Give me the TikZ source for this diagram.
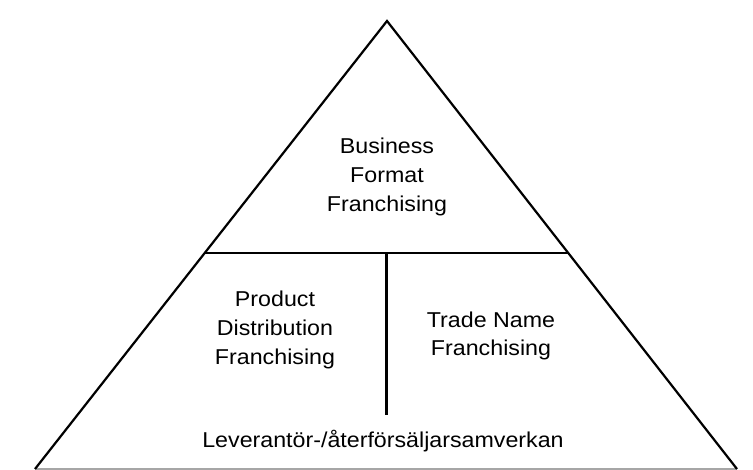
\documentclass[tikz,border=0pt]{standalone}
\usepackage{fontspec}
\setmainfont{Liberation Sans}[FakeStretch=1.08]
\usetikzlibrary{calc}
\begin{document}
\begin{tikzpicture}[x=1pt,y=-1pt,
  edge/.style={line width=2.2pt, line join=miter, line cap=butt},
  baseedge/.style={line width=1.2pt, black!35},
  label/.style={inner sep=0pt, align=center, font=\fontsize{21.5}{28.8}\selectfont}]
  \useasboundingbox (0,0) rectangle (753,470);
  % pyramid corners
  \coordinate (apex) at (387,21);
  \coordinate (bl) at (35,469);
  \coordinate (br) at (737,469);
  % dividing lines
  \coordinate (hl) at ($(apex)!0.5179!(bl)$);
  \coordinate (hr) at ($(apex)!0.5179!(br)$);
  \coordinate (vtop) at ($(hl)!0.5!(hr)$);
  \coordinate (vbot) at ($(vtop)+(0,162)$);
  \draw[baseedge] (bl) -- (br);
  \draw[edge] (bl) -- (apex) -- (br);
  \draw[edge] (hl) -- (hr);
  \draw[edge] (vtop) -- (vbot);
  % labels
  \node[label] (bff) at (387,176.7) {Business\\Format\\Franchising};
  \node[label] (pdf) at (275,329.7) {Product\\Distribution\\Franchising};
  \node[label] (tnf) at (491,336) {Trade Name\\Franchising};
  \node[label, anchor=base] (lev) at (383,447) {Leverantör-/återförsäljarsamverkan};
\end{tikzpicture}
\end{document}
